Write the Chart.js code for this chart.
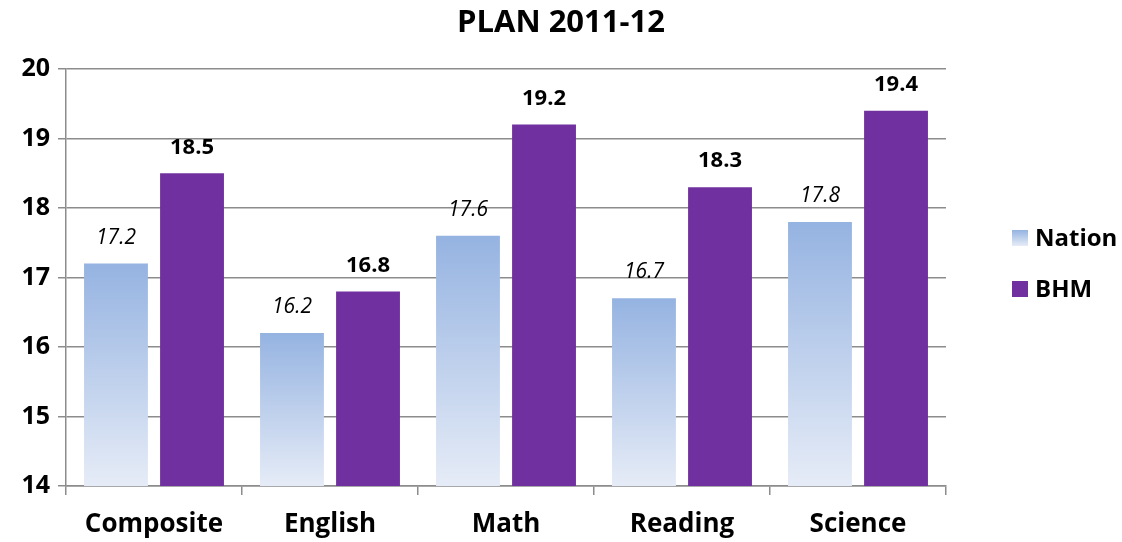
<!DOCTYPE html>
<html>
<head>
<meta charset="utf-8">
<script src="https://cdn.jsdelivr.net/npm/chart.js@4/dist/chart.umd.min.js"></script>
<style>
  html, body { margin: 0; padding: 0; background: #fff; }
  #wrap { width: 1122px; height: 542px; }
</style>
</head>
<body>
<div id="wrap"><canvas id="myChart"></canvas></div>
<script>
const categories = ["Composite", "English", "Math", "Reading", "Science"];
const nation = [17.2, 16.2, 17.6, 16.7, 17.8];
const bhm = [18.5, 16.8, 19.2, 18.3, 19.4];
const yTicks = [14, 15, 16, 17, 18, 19, 20];
const titleText = "PLAN 2011-12";

const FONT = "'Open Sans', 'Liberation Sans', sans-serif";
const GRID = "#8c8c8c";

function nationGradient(ctx, top, bottom) {
    const g = ctx.createLinearGradient(0, top, 0, bottom);
    g.addColorStop(0, "#95b3e1");
    g.addColorStop(1, "#e6ecf7");
    return g;
}

// each Nation bar gets its own top-to-bottom gradient like the Excel original
function nationFill(context) {
    const chart = context.chart;
    const area = chart.chartArea;
    if (!area) {
        return "#b4c7ea";
    }
    let top = area.top;
    if (context.dataIndex !== undefined && chart.scales.y) {
        top = chart.scales.y.getPixelForValue(context.raw);
    }
    return nationGradient(chart.ctx, top, area.bottom);
}

const valueLabels = {
    id: "valueLabels",
    afterDatasetsDraw(chart) {
        const ctx = chart.ctx;
        ctx.save();
        ctx.fillStyle = "#000";
        ctx.textAlign = "center";
        ctx.textBaseline = "middle";
        chart.data.datasets.forEach((ds, i) => {
            const meta = chart.getDatasetMeta(i);
            ctx.font = i === 0 ? "italic 21px " + FONT : "bold 22px " + FONT;
            meta.data.forEach((bar, j) => {
                ctx.fillText(ds.data[j].toFixed(1), bar.x, bar.y - 26);
            });
        });
        ctx.restore();
    }
};

// title centred on the whole canvas, legend well to the right of the plot
const sideParts = {
    id: "sideParts",
    afterDraw(chart) {
        const ctx = chart.ctx;
        const area = chart.chartArea;
        ctx.save();
        ctx.fillStyle = "#000";
        ctx.textAlign = "center";
        ctx.textBaseline = "middle";
        ctx.font = "bold 31px " + FONT;
        ctx.fillText(titleText, chart.width / 2, 23);

        const x = area.right + 66;
        const midY = (area.top + area.bottom) / 2 - 14;
        ctx.font = "bold 24px " + FONT;
        ctx.textAlign = "left";
        chart.data.datasets.forEach((ds, i) => {
            const y = midY + (i - 0.5) * 51;
            ctx.fillStyle = i === 0 ? nationGradient(ctx, y - 8, y + 8) : ds.backgroundColor;
            ctx.fillRect(x, y - 8, 16, 16);
            ctx.fillStyle = "#000";
            ctx.fillText(ds.label, x + 23, y + 1);
        });
        ctx.restore();
    }
};

const ctx = document.getElementById("myChart").getContext("2d");
const chart = new Chart(ctx, {
    type: "bar",
    data: {
        labels: categories,
        datasets: [
            {
                label: "Nation",
                data: nation,
                backgroundColor: nationFill,
                categoryPercentage: 0.864,
                barPercentage: 0.84,
            },
            {
                label: "BHM",
                data: bhm,
                backgroundColor: "#7030a0",
                categoryPercentage: 0.864,
                barPercentage: 0.84,
            },
        ],
    },
    options: {
        responsive: true,
        maintainAspectRatio: false,
        animation: false,
        layout: {
            padding: { left: 0, right: 176, top: 69, bottom: 0 },
        },
        scales: {
            x: {
                grid: {
                    display: true,
                    drawOnChartArea: false,
                    offset: true,
                    color: GRID,
                    lineWidth: 1.5,
                    tickLength: 9,
                },
                border: { color: GRID, width: 1.5 },
                ticks: {
                    color: "#000",
                    padding: 14,
                    font: { family: FONT, size: 26, weight: "bold" },
                },
                afterFit(scale) { scale.height = 56; },
            },
            y: {
                min: 14,
                max: 20,
                afterBuildTicks(scale) {
                    scale.ticks = yTicks.map(v => ({ value: v }));
                },
                grid: {
                    color: GRID,
                    lineWidth: 1.5,
                    tickLength: 8,
                },
                border: { color: GRID, width: 1.5 },
                ticks: {
                    color: "#000",
                    padding: 8,
                    font: { family: FONT, size: 25, weight: "bold" },
                },
                afterFit(scale) { scale.width = 66; },
            },
        },
        plugins: {
            title: { display: false },
            legend: { display: false },
            tooltip: { enabled: false },
        },
    },
    plugins: [valueLabels, sideParts],
});
</script>
</body>
</html>
